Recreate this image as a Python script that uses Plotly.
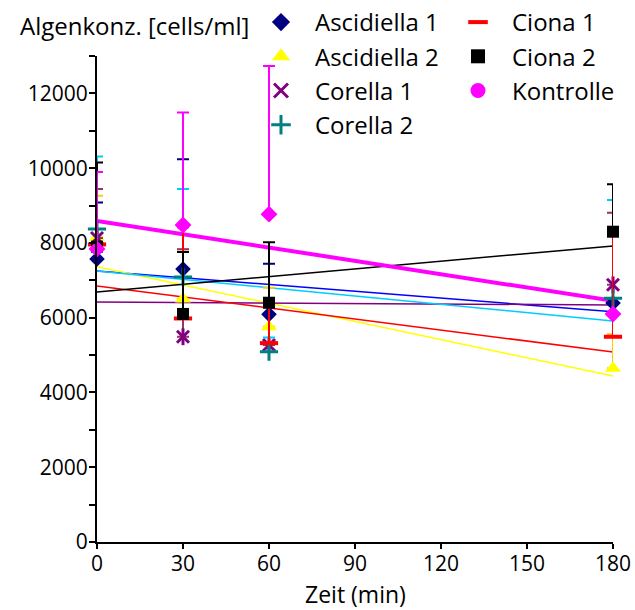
import plotly.graph_objects as go

# ---- data ----
times = [0, 30, 60, 180]

asc1 = [7570, 7300, 6090, 6390]
asc1_err = [1510, 2940, 1350, 1900]
asc2 = [8150, 6500, 5760, 4650]
asc2_err = [1110, 1330, 1040, 910]
cor1 = [8130, 5490, 5270, 6880]
cor1_err = [1310, 2340, 1030, 1930]
cor2 = [8370, 7090, 5090, 6520]
cor2_err = [1940, 2350, 380, 2630]
cio1 = [7960, 5980, 5320, 5490]
cio1_err = [1940, 2440, 1080, 2810]
cio2 = [7900, 6100, 6400, 8300]
cio2_err = [2250, 1660, 1620, 1270]
kon = [7840, 8480, 8770, 6100]
kon_err = [2060, 3010, 3960, 0]

# linear trend lines: value at t=0 and at t=180
trend_x = [0, 180]
trend_asc1 = [7250, 6160]
trend_asc2 = [7360, 4440]
trend_cor1 = [6420, 6340]
trend_cor2 = [7250, 5910]
trend_cio1 = [6850, 5080]
trend_cio2 = [6690, 7920]
trend_kon = [8590, 6450]

x_ticks = [0, 30, 60, 90, 120, 150, 180]
y_ticks = [0, 2000, 4000, 6000, 8000, 10000, 12000]

FONT = "Open Sans"
FS = 24      # legend / titles
TFS = 21     # tick labels

styles = [
    ("Ascidiella 1", asc1, asc1_err, trend_asc1, "diamond", "#000080", "#000080", "#0000FF", 1.5, 12, "diamond", 14),
    ("Ascidiella 2", asc2, asc2_err, trend_asc2, "triangle-up", "#FFFF00", "#FFCC00", "#FFFF00", 1.5, 14, "triangle-up", 17),
    ("Corella 1", cor1, cor1_err, trend_cor1, "x-thin", "#800080", "#993366", "#800080", 1.5, 12, "x-thin", 14),
    ("Corella 2", cor2, cor2_err, trend_cor2, "cross-thin", "#008080", "#00CCFF", "#00CCFF", 1.5, 13, "cross-thin", 14),
    ("Ciona 1", cio1, cio1_err, trend_cio1, "line-ew", "#FF0000", "#FF0000", "#FF0000", 1.5, 13, "line-ew", 14),
    ("Ciona 2", cio2, cio2_err, trend_cio2, "square", "#000000", "#000000", "#000000", 1.5, 12, "square", 14),
    ("Kontrolle", kon, kon_err, trend_kon, "diamond", "#FF00FF", "#FF00FF", "#FF00FF", 4, 13, "circle", 15),
]

fig = go.Figure()

for name, vals, err, trend, sym, mcol, ecol, tcol, tw, size, lsym, lsize in styles:
    fig.add_trace(go.Scatter(
        x=trend_x, y=trend, mode="lines",
        line=dict(color=tcol, width=tw),
        showlegend=False, hoverinfo="skip", cliponaxis=False))

def marker_dict(sym, col, size):
    if sym in ("x-thin", "cross-thin", "line-ew", "line-ns"):
        return dict(symbol=sym, size=size, color=col,
                    line=dict(color=col, width=4 if sym == "line-ew" else 3))
    return dict(symbol=sym, size=size, color=col, line=dict(width=0))

for name, vals, err, trend, sym, mcol, ecol, tcol, tw, size, lsym, lsize in styles:
    fig.add_trace(go.Scatter(
        x=times, y=vals, mode="markers",
        marker=marker_dict(sym, mcol, size),
        error_y=dict(type="data", array=err, arrayminus=[0] * len(err),
                     symmetric=False, color=ecol, thickness=2, width=6),
        showlegend=False, cliponaxis=False, name=name))
    if sym == "x-thin":
        # Excel-style star marker: X plus a short vertical stroke
        fig.add_trace(go.Scatter(
            x=times, y=vals, mode="markers",
            marker=marker_dict("line-ns", mcol, size),
            showlegend=False, hoverinfo="skip", cliponaxis=False))

for i, (name, vals, err, trend, sym, mcol, ecol, tcol, tw, size, lsym, lsize) in enumerate(styles):
    fig.add_trace(go.Scatter(
        x=[None], y=[None], mode="markers", name=name,
        marker=marker_dict(lsym, mcol, lsize),
        legend="legend" if i < 4 else "legend2",
        legendgroup=name))

W, H = 635, 610

leg_common = dict(
    font=dict(family=FONT, size=FS, color="black"),
    bgcolor="rgba(0,0,0,0)", borderwidth=0,
    xref="container", yref="container",
    xanchor="left", yanchor="top",
    itemwidth=58, traceorder="grouped", tracegroupgap=0,
)

fig.update_layout(
    width=W, height=H,
    margin=dict(l=97, r=22, t=56, b=68, autoexpand=False),
    paper_bgcolor="white", plot_bgcolor="white",
    font=dict(family=FONT, size=FS, color="black"),
    showlegend=True,
    legend=dict(x=247 / W, y=1, **leg_common),
    legend2=dict(x=444 / W, y=1, **leg_common),
    xaxis=dict(
        range=[0, 180], tickvals=x_ticks, ticktext=[str(v) for v in x_ticks],
        showgrid=False, zeroline=False, showline=True, linecolor="black",
        linewidth=2, ticks="outside", ticklen=5, tickwidth=2, tickcolor="black",
        ticklabelstandoff=-3,
        tickfont=dict(family=FONT, size=TFS, color="black"),
        automargin=False,
    ),
    yaxis=dict(
        range=[0, 13000], tickvals=y_ticks, ticktext=[str(v) for v in y_ticks],
        showgrid=False, zeroline=False, showline=True, linecolor="black",
        linewidth=2, ticks="outside", ticklen=6, tickwidth=2, tickcolor="black",
        ticklabelstandoff=-3,
        tickfont=dict(family=FONT, size=TFS, color="black"),
        minor=dict(tickvals=list(range(1000, 13001, 2000)), ticks="outside",
                   ticklen=6, tickwidth=2, tickcolor="black", showgrid=False),
        automargin=False,
    ),
    annotations=[
        dict(text="Algenkonz. [cells/ml]", xref="paper", yref="paper",
             x=(18 - 97) / 516, y=(542 - 25) / 486, xanchor="left", yanchor="middle",
             showarrow=False, font=dict(family=FONT, size=FS, color="black")),
        dict(text="Zeit (min)", xref="paper", yref="paper",
             x=0.5, y=(542 - 594) / 486, xanchor="center", yanchor="middle",
             borderpad=0,
             showarrow=False, font=dict(family=FONT, size=23, color="black")),
    ],
)

fig.write_html(
    "out.html",
    config={"displayModeBar": False},
    post_script="document.body.style.margin='0';document.body.style.overflow='hidden';",
)
